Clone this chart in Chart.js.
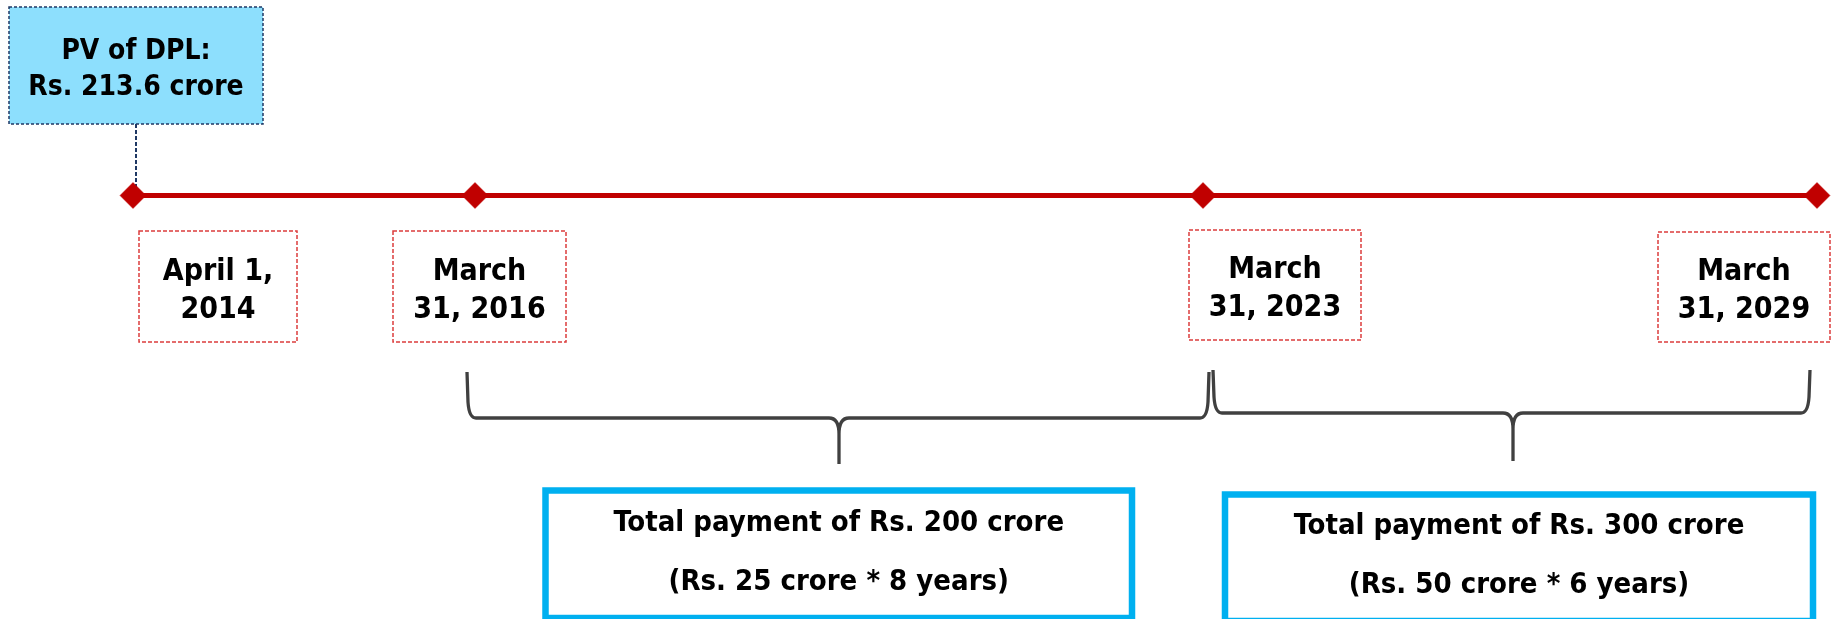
<!DOCTYPE html>
<html>
<head>
<meta charset="utf-8">
<script src="https://cdn.jsdelivr.net/npm/chart.js"></script>
<style>
  body { margin: 0; background: #fff; }
  #wrap { width: 1839px; height: 619px; position: relative; }
</style>
</head>
<body>
<div id="wrap"><canvas id="myChart"></canvas></div>
<script>
// timeline events
var eventLabels = [['April 1,', '2014'], ['March', '31, 2016'], ['March', '31, 2023'], ['March', '31, 2029']];
var eventPos = [133, 475, 1203, 1817];
var timelineY = 195.5;

// present value note
var pvLabel = ['PV of DPL:', 'Rs. 213.6 crore'];

// payment periods
var paymentLabels = [
    ['Total payment of Rs. 200 crore', '(Rs. 25 crore * 8 years)'],
    ['Total payment of Rs. 300 crore', '(Rs. 50 crore * 6 years)']
];

// boxes / braces placement (same units as the scales)
var dateBoxes = [[139, 231, 297, 342], [393, 231, 566, 342], [1189, 230, 1361, 340], [1658, 232, 1830, 342]];
var dateBase = [[280, 318], [280, 318], [278, 316], [280, 318]];
var pvBox = [9, 7, 263, 124];
var braces = [
    { x1: 467, x2: 1209, tip: 839, top: 372, h: 418, bottom: 464 },
    { x1: 1213, x2: 1810, tip: 1513, top: 370, h: 413, bottom: 461 }
];
var payBoxes = [[545.5, 490.5, 1132, 618], [1225, 494.5, 1813, 621]];
var payBase = [[531, 590], [534, 593]];

var FONT = '"DejaVu Sans Condensed", "DejaVu Sans", sans-serif';

var drawer = {
    id: 'timelineDrawer',
    beforeDatasetsDraw: function(chart) {
        var ctx = chart.ctx;
        var xs = chart.scales.x, ys = chart.scales.y;
        var px = function(v) { return xs.getPixelForValue(v); };
        var py = function(v) { return ys.getPixelForValue(v); };

        ctx.save();
        ctx.textAlign = 'center';
        ctx.textBaseline = 'alphabetic';

        // PV box
        ctx.fillStyle = '#8DDFFD';
        ctx.fillRect(px(pvBox[0]), py(pvBox[1]), px(pvBox[2]) - px(pvBox[0]), py(pvBox[3]) - py(pvBox[1]));
        ctx.strokeStyle = '#1F3864';
        ctx.lineWidth = 1.5;
        ctx.setLineDash([3, 2]);
        ctx.strokeRect(px(pvBox[0]), py(pvBox[1]), px(pvBox[2]) - px(pvBox[0]), py(pvBox[3]) - py(pvBox[1]));
        // connector
        ctx.lineWidth = 2;
        ctx.setLineDash([4, 2]);
        ctx.beginPath();
        ctx.moveTo(px(136), py(pvBox[3]));
        ctx.lineTo(px(136), py(timelineY - 8));
        ctx.stroke();
        ctx.fillStyle = '#000';
        ctx.font = 'bold 28px ' + FONT;
        ctx.fillText(pvLabel[0], px((pvBox[0] + pvBox[2]) / 2), py(59));
        ctx.fillText(pvLabel[1], px((pvBox[0] + pvBox[2]) / 2), py(95));

        // date boxes
        ctx.strokeStyle = '#DC3C3C';
        ctx.lineWidth = 1.5;
        ctx.setLineDash([4, 2]);
        ctx.font = 'bold 30px ' + FONT;
        dateBoxes.forEach(function(b, i) {
            ctx.strokeRect(px(b[0]), py(b[1]), px(b[2]) - px(b[0]), py(b[3]) - py(b[1]));
            var cx = px((b[0] + b[2]) / 2);
            ctx.fillText(eventLabels[i][0], cx, py(dateBase[i][0]));
            ctx.fillText(eventLabels[i][1], cx, py(dateBase[i][1]));
        });
        ctx.setLineDash([]);

        // braces
        ctx.strokeStyle = '#404040';
        ctx.lineWidth = 3.3;
        ctx.lineJoin = 'round';
        ctx.lineCap = 'butt';
        braces.forEach(function(b) {
            ctx.beginPath();
            ctx.moveTo(px(b.x1), py(b.top));
            ctx.lineTo(px(b.x1 + 1), py(b.h - 16));
            ctx.quadraticCurveTo(px(b.x1 + 2), py(b.h), px(b.x1 + 9), py(b.h));
            ctx.lineTo(px(b.tip - 10), py(b.h));
            ctx.quadraticCurveTo(px(b.tip), py(b.h), px(b.tip), py(b.h + 16));
            ctx.lineTo(px(b.tip), py(b.bottom));
            ctx.moveTo(px(b.tip), py(b.h + 16));
            ctx.quadraticCurveTo(px(b.tip), py(b.h), px(b.tip + 10), py(b.h));
            ctx.lineTo(px(b.x2 - 9), py(b.h));
            ctx.quadraticCurveTo(px(b.x2 - 2), py(b.h), px(b.x2 - 1), py(b.h - 16));
            ctx.lineTo(px(b.x2), py(b.top));
            ctx.stroke();
        });

        // payment boxes
        ctx.strokeStyle = '#00B0F0';
        ctx.lineWidth = 6.5;
        ctx.lineJoin = 'miter';
        ctx.font = 'bold 29px ' + FONT;
        payBoxes.forEach(function(b, i) {
            ctx.strokeRect(px(b[0]), py(b[1]), px(b[2]) - px(b[0]), py(b[3]) - py(b[1]));
            var cx = px((b[0] + b[2]) / 2);
            ctx.fillText(paymentLabels[i][0], cx, py(payBase[i][0]));
            ctx.fillText(paymentLabels[i][1], cx, py(payBase[i][1]));
        });
        ctx.restore();
    }
};

var ctx = document.getElementById('myChart').getContext('2d');

var chart = new Chart(ctx, {
    type: 'scatter',
    data: {
        datasets: [{
            label: 'Timeline',
            data: eventPos.map(function(x) { return { x: x, y: timelineY }; }),
            showLine: true,
            borderColor: '#C00000',
            borderWidth: 5,
            pointStyle: 'rectRot',
            pointRadius: 13,
            pointHoverRadius: 13,
            pointBackgroundColor: '#C00000',
            pointBorderColor: '#C00000',
            pointBorderWidth: 0.5,
            clip: false
        }]
    },
    options: {
        responsive: true,
        maintainAspectRatio: false,
        animation: false,
        layout: { padding: 0, autoPadding: false },
        plugins: {
            legend: { display: false },
            tooltip: { enabled: false }
        },
        scales: {
            x: { type: 'linear', min: 0, max: 1839, display: false },
            y: { type: 'linear', min: 0, max: 619, reverse: true, display: false }
        }
    },
    plugins: [drawer]
});
</script>
</body>
</html>
